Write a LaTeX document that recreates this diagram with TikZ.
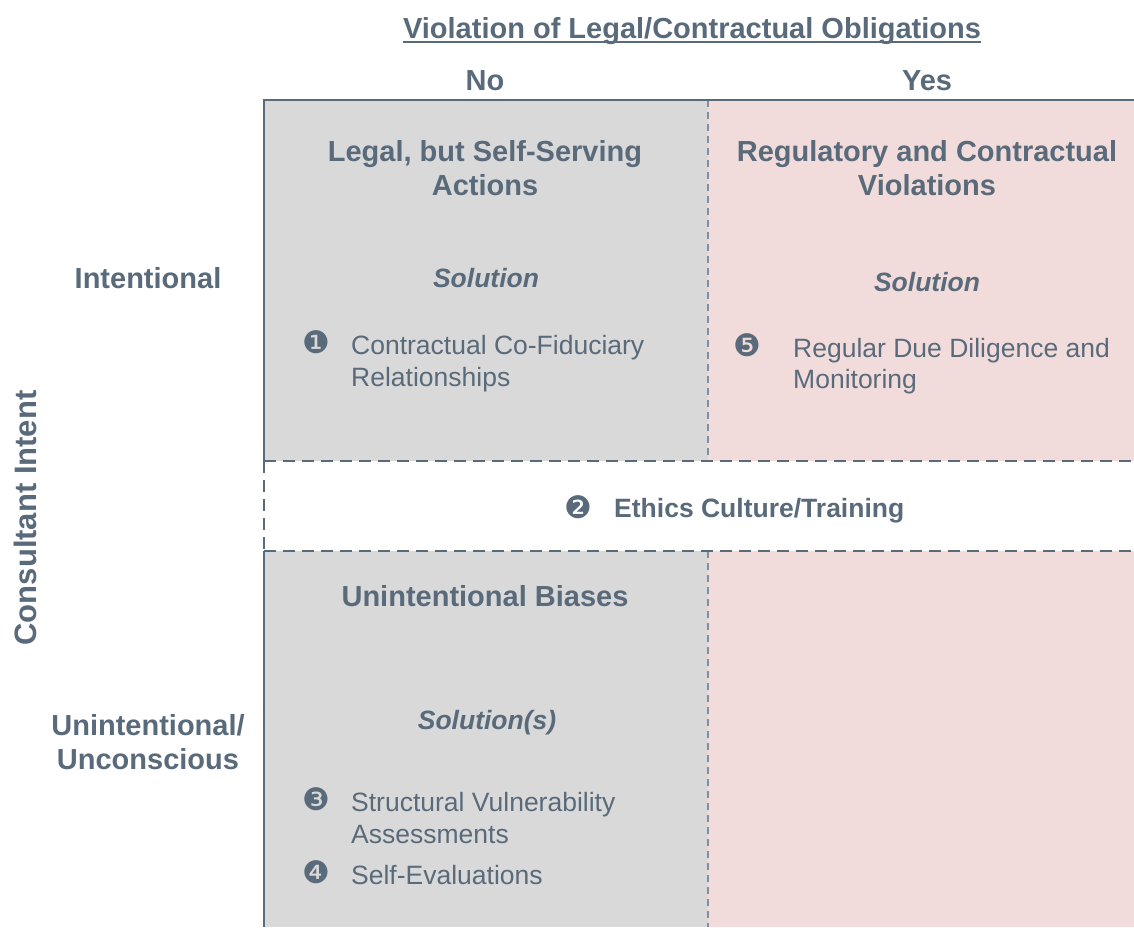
\documentclass[tikz,border=0pt]{standalone}
\usepackage{fontspec}
\setmainfont{Liberation Sans}
\newfontfamily\dejavu{DejaVu Sans}
\definecolor{slate}{HTML}{596A7B}
\definecolor{cellgray}{HTML}{D9D9D9}
\definecolor{cellpink}{HTML}{F2DCDB}
\definecolor{midline}{HTML}{8090A0}
\tikzset{
  hd/.style={inner sep=0pt, text=slate, font=\fontsize{29}{34}\selectfont\bfseries},
  sol/.style={inner sep=0pt, text=slate, font=\fontsize{26.5}{31}\selectfont\bfseries\itshape},
  item/.style={inner sep=0pt, text=slate, font=\fontsize{26.5}{31}\selectfont},
  band/.style={inner sep=0pt, text=slate, font=\fontsize{26.5}{31}\selectfont\bfseries},
  bul/.style={inner sep=0pt, text=slate, font=\dejavu\fontsize{31}{31}\selectfont},
  border/.style={draw=slate, line width=2.2pt},
  banddash/.style={draw=slate, line width=2.4pt, dash pattern=on 12pt off 7pt},
  middash/.style={draw=midline, line width=1.2pt, dash pattern=on 7pt off 5pt},
}
\begin{document}
\begin{tikzpicture}[x=1pt,y=-1pt]
\useasboundingbox (0,0) rectangle (1134,927);
% cells
\fill[cellgray] (264,100) rectangle (708,461);
\fill[cellpink] (708,100) rectangle (1134,461);
\fill[cellgray] (264,551) rectangle (708,927);
\fill[cellpink] (708,551) rectangle (1134,927);
\fill[white] (264,461) rectangle (1134,551);
% corners
\coordinate (tl) at (264,100);
\coordinate (tr) at (1134,100);
\coordinate (bl) at (264,927);
\coordinate (btl) at (264,461);
\coordinate (btr) at (1134,461);
\coordinate (bbl) at (264,551);
\coordinate (bbr) at (1134,551);
\coordinate (mt) at (708,100);
\coordinate (mb1) at (708,461);
\coordinate (mt2) at (708,551);
\coordinate (mb) at (708,927);
% middle dashed line
\draw[middash] (mt) -- (mb1);
\draw[middash] (mt2) -- (mb);
% band
\draw[banddash] (btl) -- (btr);
\draw[banddash] (bbl) -- (bbr);
\draw[banddash, line width=1.6pt] (btl) -- (bbl);
% solid borders
\draw[border] (btl) -- (tl) -- (tr);
\draw[border] (bbl) -- (bl);
% top headers
\node[hd, anchor=base] (title) at (692,38) {Violation of Legal/Contractual Obligations};
\draw[slate, line width=2pt] ([yshift=-4pt]title.base west) -- ([yshift=-4pt]title.base east);
\node[hd, anchor=base] (no) at (485,90) {No};
\node[hd, anchor=base] (yes) at (927,90) {Yes};
% side headers
\node[hd, anchor=base] (intent) at (148,288) {Intentional};
\node[hd, anchor=base] (unint1) at (148,735) {Unintentional/};
\node[hd, anchor=base] (unint2) at (148,769) {Unconscious};
\node[hd, rotate=90, anchor=center, font=\fontsize{31}{34}\selectfont\bfseries] (ci) at (25,518) {Consultant Intent};
% top-left cell
\node[hd, anchor=base] (lss1) at (485,161) {Legal, but Self-Serving};
\node[hd, anchor=base] (lss2) at (485,195) {Actions};
\node[sol, anchor=base] (sol1) at (486,287) {Solution};
\node[bul] (b1) at (316,342) {❶};
\node[item, anchor=base west] (i1a) at (351,354) {Contractual Co-Fiduciary};
\node[item, anchor=base west] (i1b) at (351,386) {Relationships};
% top-right cell
\node[hd, anchor=base] (rcv1) at (927,161) {Regulatory and Contractual};
\node[hd, anchor=base] (rcv2) at (927,195) {Violations};
\node[sol, anchor=base] (sol2) at (927,291) {Solution};
\node[bul] (b5) at (747,345) {❺};
\node[item, anchor=base west] (i5a) at (793,357) {Regular Due Diligence and};
\node[item, anchor=base west] (i5b) at (793,388) {Monitoring};
% band
\node[bul] (b2) at (578,507) {❷};
\node[band, anchor=base west] (eth) at (614,517) {Ethics Culture/Training};
% bottom-left cell
\node[hd, anchor=base] (ub) at (485,606) {Unintentional Biases};
\node[sol, anchor=base] (sol3) at (487,729) {Solution(s)};
\node[bul] (b3) at (316,799) {❸};
\node[item, anchor=base west] (i3a) at (351,811) {Structural Vulnerability};
\node[item, anchor=base west] (i3b) at (351,843) {Assessments};
\node[bul] (b4) at (316,872) {❹};
\node[item, anchor=base west] (i4) at (351,884) {Self-Evaluations};
\end{tikzpicture}
\end{document}
